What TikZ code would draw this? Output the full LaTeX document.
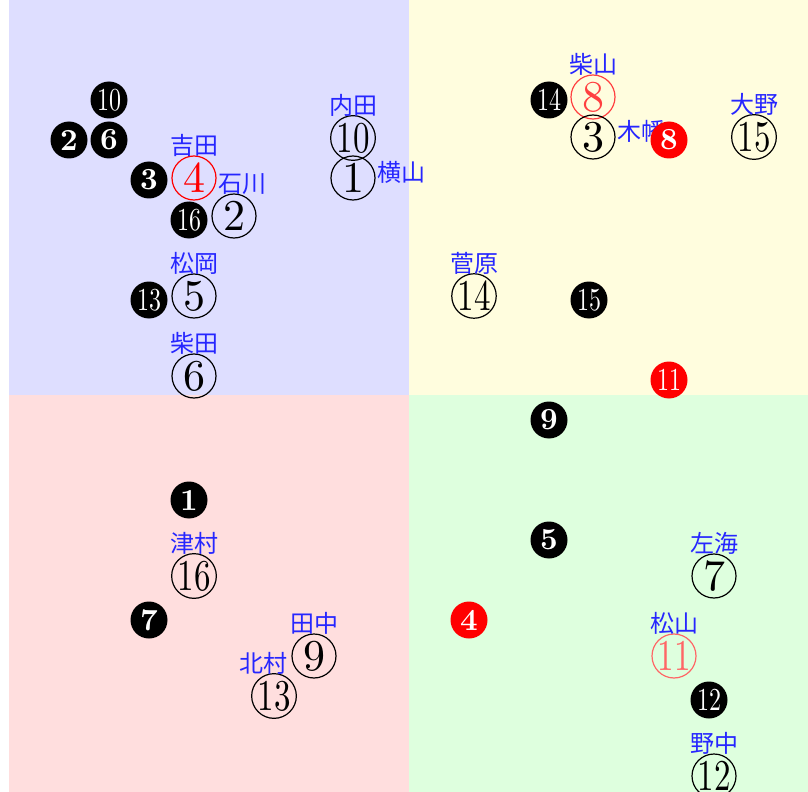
\documentclass[tikz,border=0pt]{standalone}
\usepackage{fontspec}
\usepackage{xcolor}
\usepackage{graphicx}
\usepackage{tikz}
\usetikzlibrary{positioning}
\newfontfamily\jpfont{Noto Sans CJK JP}
\newfontfamily\numfont{lmroman10-regular.otf}
\newfontfamily\numbold{lmroman10-bold.otf}
\newcommand{\twodig}[1]{\scalebox{0.75}[1]{#1}}

\begin{document}
\begin{tikzpicture}[
        x=0.75pt, y=-0.75pt,
        ring/.style = {circle, draw, line width=0.9pt, minimum size=33pt, inner sep=0pt, font=\numfont\fontsize{33}{33}\selectfont},
        dot/.style = {circle, fill=black, text=white, minimum size=27.75pt, inner sep=0pt, font=\numbold\fontsize{23}{23}\selectfont},
        dotwide/.style = {dot, font=\numfont\fontsize{24}{24}\selectfont},
        who/.style = {font=\jpfont\fontsize{18}{18}\selectfont, text=blue!85, inner sep=0pt}
    ]
    \useasboundingbox (0,0) rectangle (808,792);
    % four zones
    \fill[blue!13] (9,0) rectangle (409,395);
    \fill[yellow!13] (409,0) rectangle (808,395);
    \fill[red!13] (9,395) rectangle (409,792);
    \fill[green!13] (409,395) rectangle (808,792);

    % open circles
    \node[ring] (r10) at (353,138) {\twodig{10}};
    \node[ring] (r1) at (353,178) {1};
    \node[ring, draw=red, text=red] (r4) at (194,178) {4};
    \node[ring] (r2) at (234,216) {2};
    \node[ring] (r5) at (194,296) {5};
    \node[ring] (r6) at (194,376) {6};
    \node[ring, draw=red!75, text=red!75] (r8) at (593,97) {8};
    \node[ring] (r3) at (593,137) {3};
    \node[ring] (r15) at (754,137) {\twodig{15}};
    \node[ring] (r14) at (474,296) {\twodig{14}};
    \node[ring] (r7) at (714,576) {7};
    \node[ring, draw=red!60, text=red!60] (r11) at (674,656) {\twodig{11}};
    \node[ring] (r12) at (714,776) {\twodig{12}};
    \node[ring] (r16) at (194,576) {\twodig{16}};
    \node[ring] (r9) at (314,656) {9};
    \node[ring] (r13) at (274,696) {\twodig{13}};

    % names
    \node[who, above=-1pt of r10] (l10) {内田};
    \node[who, right=1.5pt of r1, yshift=4.5pt] (l1) {横山};
    \node[who, above=-1pt of r4] (l4) {吉田};
    \node[who, above=-1pt of r2, xshift=6.5pt] (l2) {石川};
    \node[who, above=-1pt of r5] (l5) {松岡};
    \node[who, above=-1pt of r6] (l6) {柴田};
    \node[who, above=-1pt of r8] (l8) {柴山};
    \node[who, right=1.5pt of r3, yshift=4pt] (l3) {木幡};
    \node[who, above=-1pt of r15] (l15) {大野};
    \node[who, above=-1pt of r14] (l14) {菅原};
    \node[who, above=-1pt of r7] (l7) {左海};
    \node[who, above=-1pt of r11] (l11) {松山};
    \node[who, above=-1pt of r12] (l12) {野中};
    \node[who, above=-1pt of r16] (l16) {津村};
    \node[who, above=-1pt of r9] (l9) {田中};
    \node[who, above=-1pt of r13, xshift=-8pt] (l13) {北村};

    % filled circles
    \node[dotwide] (d10) at (109,100) {\twodig{10}};
    \node[dot] (d2) at (69,140) {2};
    \node[dot] (d6) at (109,140) {6};
    \node[dot] (d3) at (149,180) {3};
    \node[dotwide] (d16) at (189,220) {\twodig{16}};
    \node[dotwide] (d13) at (149,300) {\twodig{13}};
    \node[dotwide] (d14) at (549,100) {\twodig{14}};
    \node[dot, fill=red] (d8) at (669,140) {8};
    \node[dotwide] (d15) at (589,300) {\twodig{15}};
    \node[dotwide, fill=red] (d11) at (669,380) {\twodig{11}};
    \node[dot] (d9) at (549,420) {9};
    \node[dot] (d5) at (549,540) {5};
    \node[dot, fill=red] (d4) at (469,620) {4};
    \node[dotwide] (d12) at (709,700) {\twodig{12}};
    \node[dot] (d1) at (189,500) {1};
    \node[dot] (d7) at (149,620) {7};
\end{tikzpicture}
\end{document}
